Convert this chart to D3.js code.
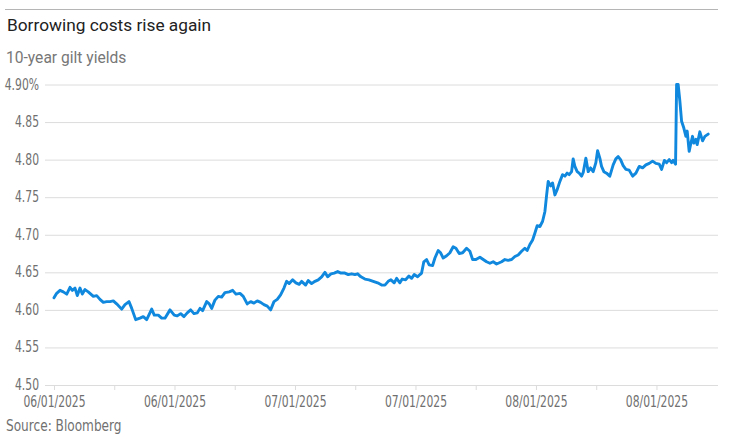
<!DOCTYPE html>
<html>
<head>
<meta charset="utf-8">
<script src="https://cdn.jsdelivr.net/npm/d3@7"></script>
<style>
  body { margin: 0; background: #fff; }
  svg { display: block; }
  .title { font-family: Roboto, sans-serif; font-size: 17.3px; fill: #222; }
  .subtitle { font-family: Roboto, sans-serif; font-size: 15.6px; fill: #777; }
  .axis text, .source { font-family: "Liberation Sans Narrow", "DejaVu Sans Condensed", sans-serif; font-size: 15px; fill: #707070; }
</style>
</head>
<body>
<script>
var width = 747, height = 439;

// days since first tick (06/01/2025)
var days = [
  0.00, 0.31, 0.70, 1.08, 1.48, 1.86, 2.13, 2.44, 2.71, 3.02, 3.29, 3.60, 3.98, 4.57, 4.96,
  5.34, 5.73, 6.12, 6.51, 6.89, 7.28, 7.86, 8.25, 8.71, 9.03, 9.49, 9.99, 10.37, 10.77, 11.35,
  11.65, 12.12, 12.51, 12.89, 13.48, 13.97, 14.32, 14.72, 15.10, 15.48, 15.88, 16.26, 16.65, 16.96, 17.27,
  17.74, 18.04, 18.32, 18.70, 19.09, 19.48, 19.86, 20.36, 20.76, 21.14, 21.61, 21.99, 22.45, 22.85, 23.23,
  23.62, 24.01, 24.39, 24.78, 25.17, 25.56, 25.94, 26.33, 26.72, 27.03, 27.33, 27.73, 28.11, 28.49, 28.77,
  29.24, 29.54, 29.93, 30.32, 30.70, 31.10, 31.48, 31.79, 32.18, 32.56, 32.96, 33.34, 33.80, 34.19, 34.58,
  34.97, 35.28, 35.66, 36.13, 36.59, 37.09, 37.60, 38.07, 38.45, 38.83, 39.15, 39.53, 39.81, 40.19, 40.46,
  40.85, 41.24, 41.55, 41.85, 42.25, 42.52, 42.71, 42.97, 43.29, 43.59, 43.99, 44.26, 44.64, 44.92, 45.22,
  45.62, 46.00, 46.38, 46.70, 47.08, 47.48, 47.94, 48.32, 48.64, 49.02, 49.49, 49.87, 50.26, 50.65, 51.03,
  51.42, 52.01, 52.39, 52.77, 53.17, 53.55, 53.93, 54.33, 54.71, 54.98, 55.29, 55.61, 55.87, 56.14, 56.46,
  56.77, 57.04, 57.23, 57.42, 57.70, 57.93, 58.20, 58.46, 58.78, 59.09, 59.36, 59.62, 59.86, 60.14, 60.32,
  60.52, 60.79, 61.02, 61.30, 61.49, 61.80, 62.07, 62.34, 62.65, 62.96, 63.16, 63.42, 63.62, 63.89, 64.20,
  64.58, 64.97, 65.28, 65.55, 65.83, 66.13, 66.45, 66.83, 67.23, 67.61, 68.00, 68.39, 68.77, 69.16, 69.55,
  69.93, 70.32, 70.60, 70.92, 71.18, 71.48, 71.76, 71.94, 72.22, 72.34, 72.52, 72.72, 72.92, 73.18, 73.42,
  73.57, 73.80, 73.96, 74.19, 74.35, 74.58, 74.73, 75.04, 75.36, 75.63, 76.01
];

// 10-year gilt yield, %
var yields = [
  4.616, 4.622, 4.626, 4.624, 4.621, 4.630, 4.626, 4.629, 4.619, 4.629, 4.621, 4.627, 4.624, 4.618, 4.619,
  4.614, 4.610, 4.611, 4.611, 4.612, 4.608, 4.601, 4.607, 4.611, 4.602, 4.587, 4.589, 4.591, 4.587, 4.601,
  4.593, 4.593, 4.589, 4.589, 4.600, 4.593, 4.592, 4.595, 4.591, 4.596, 4.600, 4.595, 4.596, 4.602, 4.599,
  4.611, 4.608, 4.602, 4.613, 4.618, 4.617, 4.623, 4.624, 4.626, 4.621, 4.622, 4.618, 4.608, 4.611, 4.609,
  4.612, 4.610, 4.607, 4.605, 4.600, 4.611, 4.614, 4.620, 4.629, 4.638, 4.635, 4.640, 4.636, 4.634, 4.638,
  4.633, 4.639, 4.635, 4.638, 4.640, 4.644, 4.650, 4.644, 4.648, 4.649, 4.651, 4.649, 4.649, 4.647, 4.648,
  4.647, 4.648, 4.644, 4.641, 4.640, 4.638, 4.636, 4.633, 4.633, 4.638, 4.640, 4.636, 4.642, 4.636, 4.641,
  4.640, 4.645, 4.642, 4.647, 4.644, 4.647, 4.649, 4.664, 4.667, 4.660, 4.659, 4.669, 4.679, 4.676, 4.669,
  4.672, 4.676, 4.684, 4.682, 4.675, 4.676, 4.682, 4.678, 4.667, 4.667, 4.670, 4.667, 4.664, 4.662, 4.664,
  4.661, 4.664, 4.667, 4.666, 4.667, 4.671, 4.673, 4.678, 4.682, 4.679, 4.687, 4.693, 4.702, 4.712, 4.711,
  4.718, 4.731, 4.752, 4.771, 4.765, 4.769, 4.753, 4.760, 4.771, 4.780, 4.778, 4.782, 4.780, 4.784, 4.801,
  4.791, 4.784, 4.782, 4.778, 4.783, 4.802, 4.784, 4.789, 4.784, 4.796, 4.812, 4.802, 4.791, 4.784, 4.782,
  4.778, 4.793, 4.801, 4.804, 4.800, 4.792, 4.787, 4.786, 4.778, 4.782, 4.791, 4.789, 4.793, 4.795, 4.798,
  4.795, 4.794, 4.787, 4.799, 4.796, 4.800, 4.796, 4.799, 4.794, 4.900, 4.900, 4.878, 4.851, 4.842, 4.831,
  4.838, 4.811, 4.820, 4.831, 4.822, 4.827, 4.820, 4.837, 4.825, 4.831, 4.834
];

var yTicks = [4.50, 4.55, 4.60, 4.65, 4.70, 4.75, 4.80, 4.85, 4.90];
var xTicks = [0, 7, 14, 21, 28, 35, 42, 49, 56, 63, 70];
var xTickLabels = ['06/01/2025', '', '06/01/2025', '', '07/01/2025', '', '07/01/2025', '', '08/01/2025', '', '08/01/2025'];

var data = days.map(function (d, i) { return { day: d, value: yields[i] }; });

var svg = d3.select('body').append('svg')
  .attr('width', width)
  .attr('height', height);

var x = d3.scaleLinear().domain([0, 77.15]).range([54, 718]);
var y = d3.scaleLinear().domain([4.50, 4.90]).range([385, 84.5]);

var squeeze = 0.8; // axis font is a condensed face

// header rule, title, subtitle
svg.append('line')
  .attr('x1', 5).attr('x2', 718).attr('y1', 9.5).attr('y2', 9.5)
  .attr('stroke', '#b5b5b5').attr('stroke-width', 1);

svg.append('text').attr('class', 'title').attr('x', 7).attr('y', 31)
  .text('Borrowing costs rise again');
svg.append('text').attr('class', 'subtitle').attr('x', 6).attr('y', 63)
  .text('10-year gilt yields');

// y axis as gridlines
var yAxis = d3.axisLeft(y)
  .tickValues(yTicks)
  .tickSize(-(718 - 45))
  .tickPadding(6)
  .tickFormat(function (d, i) {
    return i === yTicks.length - 1 ? d3.format('.2f')(d) + '%' : d3.format('.2f')(d);
  });

var gy = svg.append('g').attr('class', 'axis')
  .attr('transform', 'translate(45,0)')
  .call(yAxis);
gy.select('.domain').remove();
gy.selectAll('.tick line').attr('stroke', '#dcdcdc');
gy.selectAll('.tick text')
  .attr('dy', '0.3em')
  .attr('x', -6 / squeeze)
  .attr('transform', 'scale(' + squeeze + ',1)');

// x axis
var xAxis = d3.axisBottom(x)
  .tickValues(xTicks)
  .tickSize(5)
  .tickPadding(6)
  .tickFormat(function (d, i) { return xTickLabels[i]; });

var gx = svg.append('g').attr('class', 'axis')
  .attr('transform', 'translate(0,385)')
  .call(xAxis);
gx.select('.domain').attr('d', 'M45,0.5H718').attr('stroke', '#dcdcdc');
gx.selectAll('.tick line').attr('stroke', '#dcdcdc');
gx.selectAll('.tick text').attr('transform', 'scale(' + squeeze + ',1)');

// the yield line
var line = d3.line()
  .x(function (d) { return x(d.day); })
  .y(function (d) { return y(d.value); });

svg.append('path')
  .datum(data)
  .attr('d', line)
  .attr('fill', 'none')
  .attr('stroke', '#0f88dd')
  .attr('stroke-width', 2.9)
  .attr('stroke-linejoin', 'round')
  .attr('stroke-linecap', 'round');

svg.append('text').attr('class', 'source')
  .attr('transform', 'translate(6,431) scale(0.9,1)')
  .text('Source: Bloomberg');
</script>
</body>
</html>
